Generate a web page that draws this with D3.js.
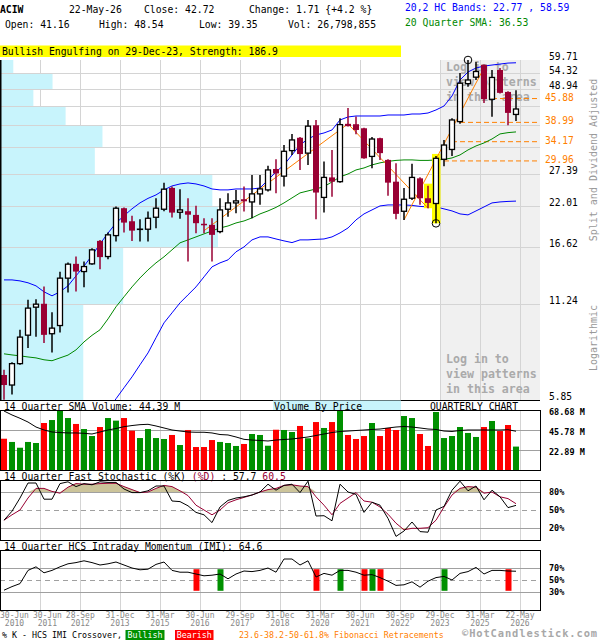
<!DOCTYPE html>
<html lang="en">
<head>
<meta charset="UTF-8" />
<title>ACIW Quarterly Chart</title>
<script src="https://d3js.org/d3.v7.min.js"></script>
<style>
  body { margin: 0; background: #fff; }
  svg { display: block; font-family: "DejaVu Sans Mono", monospace; }
  .grid { stroke: #d4d4d4; stroke-width: 1; shape-rendering: crispEdges; }
  .pgrid { stroke: #a0a0a0; stroke-width: 1; shape-rendering: crispEdges; }
  .frame { fill: none; stroke: #000; stroke-width: 1; shape-rendering: crispEdges; }
</style>
</head>
<body>
<svg width="600" height="640"></svg>
<script>
// quarterly candles, Q2 2010 .. Q2 2026
const opens  = [6.94,6.48,7.50,9.11,11.03,11.29,9.20,9.73,13.45,14.83,14.07,14.83,17.35,15.59,17.99,21.69,19.84,18.78,18.79,20.39,21.54,24.92,21.10,21.25,20.72,19.50,19.36,18.49,21.54,22.49,23.06,22.64,23.92,24.58,28.36,27.00,32.15,35.10,31.60,38.23,23.35,26.77,26.00,38.60,38.50,37.45,30.90,35.00,30.17,26.00,21.24,23.22,26.60,23.22,22.40,30.30,32.40,39.20,50.80,53.10,57.77,45.65,55.77,48.00,41.16];
const highs  = [7.19,7.57,9.45,11.60,11.64,12.70,10.66,14.04,14.96,15.59,15.06,16.51,17.47,18.36,21.94,21.80,20.59,20.12,21.19,23.22,25.83,25.14,24.70,23.22,22.04,20.25,20.25,23.22,24.02,24.58,25.14,27.20,27.20,29.00,30.30,33.40,36.00,35.30,39.64,39.64,29.82,32.30,40.10,43.00,40.60,37.60,35.30,35.10,30.30,29.50,24.90,29.40,26.80,25.30,31.00,34.58,40.10,54.60,59.71,59.00,57.90,55.77,56.50,48.20,48.54];
const lows   = [5.86,6.07,7.44,8.34,9.02,8.63,8.09,9.28,12.19,12.28,12.64,14.73,14.30,15.31,17.27,18.36,17.35,17.27,17.27,18.92,21.24,20.34,20.20,15.06,18.28,18.28,15.06,18.28,20.47,20.94,21.19,20.25,22.20,24.30,24.02,25.14,31.20,28.17,29.15,20.12,21.05,23.45,25.80,37.90,35.97,30.40,28.50,30.17,23.60,20.12,20.02,22.95,22.20,21.69,19.56,28.90,31.00,38.60,49.70,52.10,44.50,40.50,47.50,38.20,39.35];
const closes = [6.48,7.50,8.99,10.96,11.26,9.13,9.56,13.45,14.80,14.07,14.56,16.32,15.53,18.08,21.69,19.66,18.61,18.80,20.25,21.69,24.70,21.05,21.44,20.75,19.58,19.40,18.08,21.44,22.49,22.80,22.74,23.92,24.75,28.17,27.50,32.00,34.58,31.40,38.00,24.14,26.77,26.00,38.40,38.00,37.02,30.50,34.80,31.60,25.83,20.87,23.06,26.77,23.22,22.49,30.50,33.40,39.64,50.95,52.09,55.20,45.70,53.00,47.70,41.60,42.72];

// 20,2 HC bands and 20 quarter SMA
const upperBand = [13.29,13.29,13.20,13.03,12.76,12.25,11.92,12.25,12.76,13.66,14.60,15.70,17.00,18.30,19.60,20.60,21.60,22.50,23.20,23.75,24.58,25.25,25.60,25.78,25.60,25.25,24.74,24.58,24.58,24.74,24.74,24.74,24.91,26.31,27.79,29.16,31.21,33.42,34.81,35.78,36.27,37.02,39.64,40.46,40.73,40.73,40.73,40.73,41.01,41.01,41.01,41.29,41.29,41.57,42.44,43.61,46.69,52.09,55.01,56.53,57.30,57.69,58.08,58.47,58.59];
const lowerBand = [null,null,null,null,null,null,null,null,null,null,null,null,4.94,5.43,5.90,6.36,6.85,7.44,8.07,8.95,9.91,10.61,11.36,12.00,12.67,13.57,14.53,14.93,15.24,16.10,16.65,17.47,17.83,17.83,17.58,17.35,17.15,17.47,17.47,17.53,17.58,17.83,18.32,18.95,20.02,20.86,21.44,22.03,22.18,22.18,22.18,22.11,21.96,21.88,21.88,21.59,21.29,20.86,20.72,21.29,21.88,22.49,22.64,22.72,22.77];
const sma20 = [8.02,7.96,7.91,7.85,7.80,7.70,7.65,7.80,7.95,8.24,8.70,9.10,9.45,10.18,11.06,11.84,12.67,13.47,14.23,14.93,15.56,16.32,17.12,17.47,17.83,18.20,18.57,18.95,19.21,19.61,19.88,20.30,20.86,21.29,21.81,22.49,23.27,24.08,24.41,24.74,25.14,25.95,26.86,27.41,28.17,28.56,29.16,29.57,29.87,30.07,30.17,30.17,30.07,30.07,30.17,30.27,30.58,31.21,32.30,33.19,33.88,34.81,36.03,36.35,36.53];

// volume (millions) and 14 quarter SMA of volume
const volumes = [35.8,32.1,25.5,32.1,30.9,53.8,57.2,68.3,59.5,52.7,46.9,38.9,49.2,59.5,56.5,59.5,45.0,36.6,46.9,36.6,35.5,40.1,28.6,45.8,26.3,26.3,34.3,32.1,30.9,27.5,29.8,41.2,40.1,27.8,46.1,45.8,43.5,50.4,36.3,54.9,48.1,54.9,67.9,40.1,35.5,38.9,53.8,38.9,48.1,45.8,61.8,59.5,41.2,27.5,66.4,36.6,38.9,49.2,42.4,37.8,49.2,56.1,44.6,51.5,26.8];
const volSma = [67.5,63.0,59.2,54.9,49.2,45.8,43.5,42.9,42.4,42.4,42.0,41.2,43.5,45.8,47.5,49.6,50.9,51.9,52.3,50.4,48.1,45.8,44.6,43.5,43.2,43.2,42.4,40.6,40.1,37.8,35.1,34.3,33.8,33.2,34.3,34.9,35.5,36.6,37.8,39.5,41.2,42.9,44.1,44.6,45.2,45.8,46.4,46.9,48.1,49.2,49.8,49.2,48.1,46.9,46.4,44.6,44.1,45.2,45.8,45.8,45.8,45.8,45.8,46.1,44.39];

// 14 quarter fast stochastic and IMI
const stochK = [33,48,70,95,95,68,68,94,97,89,94,92,97,96,96,85,79,79,82,90,90,65,64,57,46,42,29,55,66,70,72,75,80,93,83,91,93,79,98,40,40.5,32,93,80,76,46,63,58,36,6,15,30,14,13,50,56,83,98,82,90,67,83,72,54,57.7];
const stochD = [33,42,50,70,86,86,81,78,88,94,93,93,94,94.5,94.5,89,84,79,80,86,91,89,82,74,58,50,42,50,62,67,71,75,80,84,86,91,92,90,89,72,58,42,61,70,79,65,63,55,43,28,17,19.5,19.5,20.5,33,55,75,86,89,88,78,80,72,69,60.5];
const imi = [33,39,44,66,72,62,66,72,77,79,82,79,75,77,80,75,70,67,68,76,80,66,63,63,60,57,58,60,52,60,65,64,66,70,63,85,85,75,82,55,61,58,66,66,63,58,59,54,48,41,42,47,38,48,54,56,50,61,64,71,60,66,66,65,64.6];
const crossIdx = [24,27,39,42,45,46,47,55,63];
const crossType = ["bear","bull","bear","bull","bear","bull","bear","bull","bear"];

// axes
const priceTicks = [5.85,11.24,16.62,22.01,27.39,32.78,38.17,43.55,48.94,54.32,59.71];
const vbpValues = [38.2,56.5,100,97.4,43.5,47.0,30.1,15.3,24.1,6.1]; // % of max, bottom band first
const fibLevels = [45.88,38.99,34.17,29.96];
const fibStart = [61,57,56,55];
const volTicks = [22.89,45.78,68.68];
const stochTicks = [20,50,80];
const imiTicks = [30,50,70];
const labelIdx = [0,4,9,14,19,24,29,34,39,44,49,54,59,64];
const labelDay = ["30-Jun","30-Jun","28-Sep","31-Dec","31-Mar","30-Jun","29-Sep","31-Dec","31-Mar","30-Jun","30-Sep","29-Dec","31-Mar","22-May"];
const labelYear = ["2010","2011","2012","2013","2015","2016","2017","2018","2020","2021","2022","2023","2025","2026"];

// pattern annotations
const patternIdx = [53,54];
const markLowIdx = 54, markHighIdx = 58;
const trendA = [[25,18.6],[43,38.6],[53,21.69]];
const trendB = [[50,20.02],[60,56.6]];

const svg = d3.select("svg");
const n = closes.length;
const plotR = 540;
const x = d3.scaleBand().domain(d3.range(n)).range([0, 520]);
const cx = i => x(i) + x.bandwidth() / 2;
const y = d3.scaleLog().domain([5.85, 59.71]).range([400, 60]);
const yVol = d3.scaleLinear().domain([0, 68.68]).range([470, 410]);
const yStoch = d3.scaleLinear().domain([0, 100]).range([540, 480]);
const yImi = d3.scaleLinear().domain([0, 100]).range([610, 550]);
const vbpX = d3.scaleLinear().domain([0, 100]).range([0, 218]);
const gridX = labelIdx.slice(1).map(i => x(i) + x.bandwidth());
const shadeX = x(54) + x.bandwidth();
const RED = "#990033";

function label(g, xx, yy, s, o = {}) {
  return g.append("text")
    .attr("x", xx).attr("y", yy)
    .attr("fill", o.fill || "#000")
    .attr("font-size", o.size || "9.75px")
    .attr("font-weight", o.weight || null)
    .attr("text-anchor", o.anchor || "start")
    .text(s);
}

// ---- header ----
const hdr = svg.append("g");
label(hdr, 0, 13, "ACIW", {weight: "bold"});
label(hdr, 69, 13, "22-May-26");
label(hdr, 144, 13, "Close: 42.72");
label(hdr, 249, 13, "Change: 1.71 {+4.2 %}");
label(hdr, 405, 10.5, "20,2 HC Bands: 22.77 , 58.59", {fill: "#0000ff"});
label(hdr, 5, 28, "Open: 41.16");
label(hdr, 99, 28, "High: 48.54");
label(hdr, 199, 28, "Low: 39.35");
label(hdr, 288, 28, "Vol: 26,798,855");
label(hdr, 405, 26, "20 Quarter SMA: 36.53", {fill: "#008800"});
hdr.append("rect").attr("x", 0).attr("y", 45.5).attr("width", 401).attr("height", 11.5).attr("fill", "#ffff00");
label(hdr, 2, 54.5, "Bullish Engulfing on 29-Dec-23, Strength: 186.9");

// ---- main price panel ----
const main = svg.append("g");
main.append("rect").attr("x", shadeX).attr("y", 60).attr("width", plotR - shadeX).attr("height", 340).attr("fill", "#f0f0f0");
main.selectAll(".vg").data(gridX).join("line").attr("class", "grid")
  .attr("x1", d => d).attr("x2", d => d).attr("y1", 60).attr("y2", 400)
  .attr("stroke", d => d === shadeX ? "#999" : null);
main.selectAll(".vbp").data(vbpValues).join("rect")
  .attr("x", 0).attr("y", (d, k) => y(priceTicks[k + 1]))
  .attr("width", d => vbpX(d))
  .attr("height", (d, k) => y(priceTicks[k]) - y(priceTicks[k + 1]))
  .attr("fill", "#c8f4fc");
main.selectAll(".hg").data(priceTicks.slice(1, -1)).join("line").attr("class", "grid")
  .attr("x1", 0).attr("x2", plotR).attr("y1", d => y(d)).attr("y2", d => y(d));

const login = main.append("g").attr("fill", "#aaa").attr("font-size", "11.6px").attr("font-weight", "bold");
[["Log in to", 71], ["view patterns", 86], ["in this area", 101], ["Log in to", 363], ["view patterns", 378], ["in this area", 393]]
  .forEach(([s, yy]) => login.append("text").attr("x", shadeX + 6).attr("y", yy).text(s));

main.selectAll(".fib").data(fibLevels).join("line")
  .attr("x1", (d, k) => cx(fibStart[k])).attr("x2", plotR)
  .attr("y1", d => y(d)).attr("y2", d => y(d))
  .attr("stroke", "#ff8000").attr("stroke-dasharray", "5,3");

svg.append("clipPath").attr("id", "mainClip").append("rect").attr("x", 0).attr("y", 60).attr("width", plotR).attr("height", 340);
const lines = main.append("g").attr("clip-path", "url(#mainClip)").attr("fill", "none");
const priceLine = d3.line().defined(d => d != null).x((d, i) => cx(i)).y(d => y(d));
lines.append("path").attr("d", priceLine(upperBand)).attr("stroke", "#0000ff");
lines.append("path").attr("d", priceLine(lowerBand)).attr("stroke", "#0000ff");
lines.append("path").attr("d", priceLine(sma20)).attr("stroke", "#008800");

patternIdx.forEach(i => {
  main.append("rect").attr("x", cx(i) - 4).attr("width", 8.5)
    .attr("y", y(highs[i]) - 2).attr("height", y(lows[i]) - y(highs[i]) + 2)
    .attr("fill", "#ffff00");
});

const trendLine = d3.line().x(d => cx(d[0])).y(d => y(d[1]));
[trendA, trendB].forEach(t => main.append("path").attr("d", trendLine(t)).attr("fill", "none").attr("stroke", "#ff8000").attr("stroke-width", 1));

const candles = main.append("g");
d3.range(n).forEach(i => {
  const up = closes[i] >= opens[i];
  const col = up ? "#000" : RED;
  candles.append("line").attr("x1", cx(i)).attr("x2", cx(i))
    .attr("y1", y(highs[i])).attr("y2", y(lows[i]))
    .attr("stroke", col).attr("stroke-width", 1.5);
  const top = y(Math.max(opens[i], closes[i]));
  const bot = y(Math.min(opens[i], closes[i]));
  if (up) {
    candles.append("rect").attr("x", cx(i) - 2.5).attr("width", 5)
      .attr("y", top).attr("height", Math.max(0.3, bot - top))
      .attr("fill", "#fff").attr("stroke", "#000").attr("stroke-width", 1.3);
  } else {
    candles.append("rect").attr("x", cx(i) - 3).attr("width", 6)
      .attr("y", top).attr("height", Math.max(1.5, bot - top))
      .attr("fill", RED);
  }
});
main.append("circle").attr("cx", cx(markLowIdx)).attr("cy", y(lows[markLowIdx])).attr("r", 3.8).attr("fill", "none").attr("stroke", "#000");
main.append("circle").attr("cx", cx(markHighIdx)).attr("cy", y(highs[markHighIdx])).attr("r", 3.8).attr("fill", "none").attr("stroke", "#000");

main.append("line").attr("x1", 0.75).attr("x2", 0.75).attr("y1", 60).attr("y2", 400).attr("stroke", "#000").attr("stroke-width", 1.5);
main.append("line").attr("x1", 0).attr("x2", plotR).attr("y1", 400.5).attr("y2", 400.5).attr("stroke", "#000");

// right axis labels
const fibY = fibLevels.map(d => y(d));
priceTicks.filter(t => fibY.every(fy => Math.abs(fy - y(t)) > 9))
  .forEach(t => label(main, 549, y(t), t.toFixed(2), {size: "9.6px"}));
fibLevels.forEach(f => label(main, 545, y(f) + 2, f.toFixed(2), {fill: "#ff8000", size: "9.6px"}));

const side = svg.append("g").attr("fill", "#999").attr("font-size", "10px").attr("text-anchor", "middle");
side.append("text").attr("transform", "translate(597,160) rotate(-90)").text("Split and Dividend Adjusted");
side.append("text").attr("transform", "translate(597,338) rotate(-90)").text("Logarithmic");

// ---- volume panel ----
const vol = svg.append("g");
vol.append("rect").attr("x", 273).attr("y", 400.5).attr("width", 128).attr("height", 10).attr("fill", "#c8f4fc");
label(vol, 4, 409.5, "14 Quarter SMA Volume: 44.39 M");
label(vol, 274, 409.5, "Volume By Price");
label(vol, 430, 409.5, "QUARTERLY CHART");
vol.selectAll(".vg").data(gridX).join("line").attr("class", "grid")
  .attr("x1", d => d).attr("x2", d => d).attr("y1", 410).attr("y2", 470);
vol.selectAll(".hg").data(volTicks.slice(0, 2)).join("line").attr("class", "pgrid")
  .attr("x1", 0).attr("x2", plotR).attr("y1", d => yVol(d)).attr("y2", d => yVol(d));
vol.selectAll(".bar").data(volumes).join("rect")
  .attr("x", (d, i) => cx(i) - 3).attr("width", 6)
  .attr("y", d => yVol(d)).attr("height", d => 470 - yVol(d))
  .attr("fill", (d, i) => closes[i] >= opens[i] ? "#009000" : "#ff0000");
vol.append("path").attr("d", d3.line().x((d, i) => cx(i)).y(d => yVol(d))(volSma))
  .attr("fill", "none").attr("stroke", "#000");
vol.append("rect").attr("class", "frame").attr("x", 0.5).attr("y", 410.5).attr("width", plotR - 0.5).attr("height", 60);
volTicks.forEach(v => label(vol, 549, yVol(v) + 4.5, v.toFixed(2) + " M", {size: "8.5px", weight: "bold"}));

// ---- stochastic panel ----
const st = svg.append("g");
const stLabel = label(st, 4, 479.5, "14 Quarter Fast Stochastic (%K) ");
stLabel.append("tspan").attr("fill", RED).text("(%D)");
stLabel.append("tspan").text(" : 57.7  ");
stLabel.append("tspan").attr("fill", RED).text("60.5");
st.selectAll(".vg").data(gridX).join("line").attr("class", "grid")
  .attr("x1", d => d).attr("x2", d => d).attr("y1", 480).attr("y2", 540);
st.selectAll(".hg").data(stochTicks).join("line").attr("class", "pgrid")
  .attr("x1", 0).attr("x2", plotR).attr("y1", d => yStoch(d)).attr("y2", d => yStoch(d))
  .attr("stroke-dasharray", d => d === 50 ? "5,4" : null);
st.append("path").attr("d", d3.area().x((d, i) => cx(i)).y0(yStoch(80)).y1(d => yStoch(Math.max(d, 80)))(stochD)).attr("fill", "#ccc49a");
st.append("path").attr("d", d3.area().x((d, i) => cx(i)).y0(yStoch(20)).y1(d => yStoch(Math.min(d, 20)))(stochD)).attr("fill", "#ccc49a");
const stLine = d3.line().x((d, i) => cx(i)).y(d => yStoch(d));
st.append("path").attr("d", stLine(stochD)).attr("fill", "none").attr("stroke", RED);
st.append("path").attr("d", stLine(stochK)).attr("fill", "none").attr("stroke", "#000");
st.append("rect").attr("class", "frame").attr("x", 0.5).attr("y", 480.5).attr("width", plotR - 0.5).attr("height", 60);
[20, 50, 80].forEach(v => label(st, 549, yStoch(v) + 3.3, v + "%", {size: "8.5px", weight: "bold"}));

// ---- IMI panel ----
const im = svg.append("g");
label(im, 4, 549.5, "14 Quarter HCS Intraday Momentum (IMI): 64.6");
im.selectAll(".vg").data(gridX).join("line").attr("class", "grid")
  .attr("x1", d => d).attr("x2", d => d).attr("y1", 550).attr("y2", 610);
im.selectAll(".hg").data(imiTicks).join("line").attr("class", "pgrid")
  .attr("x1", 0).attr("x2", plotR).attr("y1", d => yImi(d)).attr("y2", d => yImi(d))
  .attr("stroke-dasharray", d => d === 50 ? "5,4" : null);
im.selectAll(".cross").data(crossIdx).join("rect")
  .attr("x", d => cx(d) - 2.5).attr("width", 6)
  .attr("y", yImi(68)).attr("height", yImi(32) - yImi(68))
  .attr("fill", (d, k) => crossType[k] === "bull" ? "#009000" : "#ff0000");
im.append("path").attr("d", d3.line().x((d, i) => cx(i)).y(d => yImi(d))(imi)).attr("fill", "none").attr("stroke", "#000");
im.append("rect").attr("class", "frame").attr("x", 0.5).attr("y", 550.5).attr("width", plotR - 0.5).attr("height", 60);
imiTicks.forEach(v => label(im, 549, yImi(v) + 3, v + "%", {size: "8.5px", weight: "bold"}));

// ---- date labels ----
const dates = svg.append("g").attr("fill", "#888").attr("font-size", "8px").attr("text-anchor", "middle");
let prevRight = -Infinity;
labelIdx.forEach((i, k) => {
  const w = labelDay[k].length * 4.82;
  let xx = Math.max(x(i) + x.bandwidth(), w / 2, prevRight + 4 + w / 2);
  if (k === 0) xx = w / 2;
  prevRight = xx + w / 2;
  dates.append("text").attr("x", xx).attr("y", 618).text(labelDay[k]);
  dates.append("text").attr("x", xx).attr("y", 625.5).text(labelYear[k]);
});

// ---- footer ----
const ft = svg.append("g");
label(ft, 2, 637.5, "% K - HCS IMI Crossover,", {size: "8.3px"});
ft.append("rect").attr("x", 125.5).attr("y", 630).attr("width", 39).attr("height", 10).attr("fill", "#009000");
label(ft, 145, 637.5, "Bullish", {size: "8.3px", fill: "#fff", anchor: "middle"});
ft.append("rect").attr("x", 175).attr("y", 630).attr("width", 38.5).attr("height", 10).attr("fill", "#ff0000");
label(ft, 194.25, 637.5, "Bearish", {size: "8.3px", fill: "#fff", anchor: "middle"});
label(ft, 239, 637.5, "23.6-38.2-50-61.8% Fibonacci Retracements", {size: "8.3px", fill: "#ff8000"});
label(ft, 462, 637.4, "\u00a9HotCandlestick.com", {size: "10.4px", weight: "bold", fill: "#a8a8a8"})
  .attr("letter-spacing", "0.9px");
</script>
</body>
</html>
